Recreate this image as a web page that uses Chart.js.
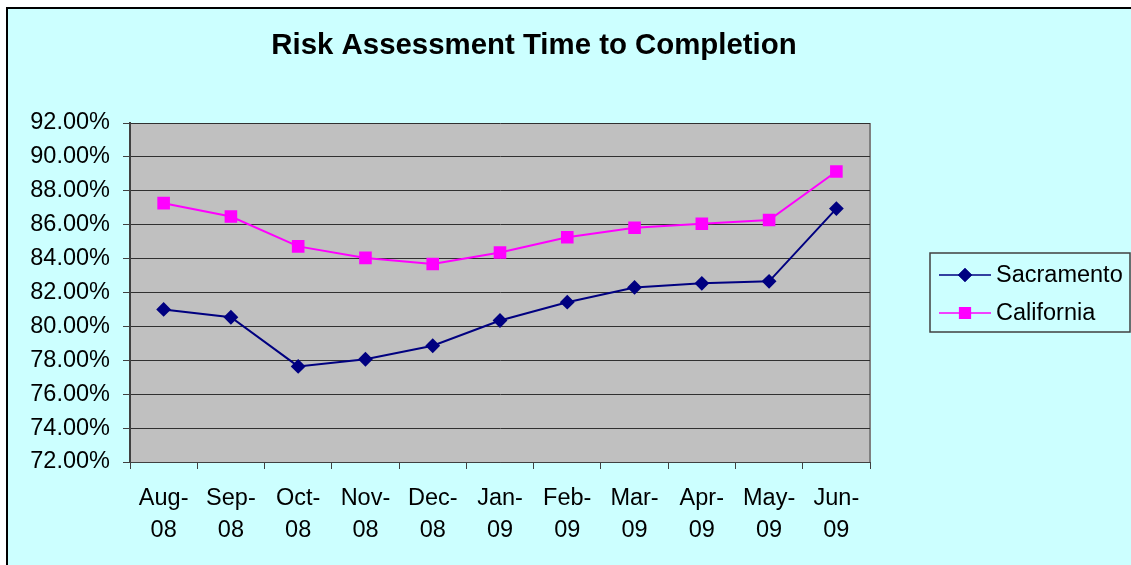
<!DOCTYPE html>
<html>
<head>
<meta charset="utf-8">
<script src="https://cdn.jsdelivr.net/npm/chart.js@4/dist/chart.umd.min.js"></script>
<style>
  body { margin: 0; background: #fff; }
  canvas { display: block; }
</style>
</head>
<body>
<canvas id="riskchart" width="1131" height="565"></canvas>
<script>
var months = [['Aug-', '08'], ['Sep-', '08'], ['Oct-', '08'], ['Nov-', '08'], ['Dec-', '08'], ['Jan-', '09'],
    ['Feb-', '09'], ['Mar-', '09'], ['Apr-', '09'], ['May-', '09'], ['Jun-', '09']];
var sacramento = [81.00, 80.54, 77.64, 78.06, 78.86, 80.35, 81.43, 82.30, 82.54, 82.66, 86.95];
var california = [87.27, 86.48, 84.72, 84.04, 83.68, 84.36, 85.26, 85.82, 86.06, 86.28, 89.14];
var chartTitle = 'Risk Assessment Time to Completion';

var FONT = 'Arial, "Liberation Sans", sans-serif';

// background frame, plot area fill, title and legend box
var excelLook = {
    id: 'excelLook',
    beforeDraw: function (chart) {
        var ctx = chart.ctx;
        var a = chart.chartArea;
        ctx.save();
        ctx.fillStyle = '#ffffff';
        ctx.fillRect(0, 0, chart.width, chart.height);
        ctx.fillStyle = '#ccffff';
        ctx.fillRect(7, 8, chart.width, chart.height);
        ctx.strokeStyle = '#000000';
        ctx.lineWidth = 2;
        ctx.strokeRect(7, 8, chart.width + 10, chart.height + 10);
        ctx.fillStyle = '#c0c0c0';
        ctx.fillRect(a.left, a.top, a.right - a.left, a.bottom - a.top);
        ctx.strokeStyle = '#808080';
        ctx.lineWidth = 2;
        ctx.beginPath();
        ctx.moveTo(a.right, a.top);
        ctx.lineTo(a.right, a.bottom);
        ctx.stroke();
        ctx.restore();
    },
    afterDraw: function (chart) {
        var ctx = chart.ctx;
        ctx.save();
        ctx.fillStyle = '#000';
        ctx.font = 'bold 29.4px ' + FONT;
        ctx.textAlign = 'center';
        ctx.textBaseline = 'middle';
        ctx.fillText(chartTitle, 534, 46);

        // legend
        ctx.strokeStyle = '#404040';
        ctx.lineWidth = 1.5;
        ctx.strokeRect(930, 253, 200, 79);
        ctx.font = '23.5px ' + FONT;
        ctx.textAlign = 'left';
        chart.data.datasets.forEach(function (ds, i) {
            var y = 275 + i * 38;
            ctx.strokeStyle = ds.borderColor;
            ctx.lineWidth = 1.5;
            ctx.beginPath();
            ctx.moveTo(939, y);
            ctx.lineTo(991, y);
            ctx.stroke();
            Chart.helpers.drawPoint(ctx, {
                pointStyle: ds.pointStyle,
                radius: ds.pointRadius,
                rotation: 0,
                borderWidth: 1
            }, 965, y);
            ctx.fillStyle = ds.pointBackgroundColor;
            ctx.strokeStyle = ds.pointBorderColor;
            ctx.fill();
            ctx.stroke();
            ctx.fillStyle = '#000';
            ctx.fillText(ds.label, 996, y + 1);
        });
        ctx.restore();
    }
};

new Chart(document.getElementById('riskchart').getContext('2d'), {
    type: 'line',
    data: {
        labels: months,
        datasets: [{
            label: 'Sacramento',
            data: sacramento,
            borderColor: '#000080',
            borderWidth: 2,
            pointStyle: 'rectRot',
            pointRadius: 6,
            pointBackgroundColor: '#000080',
            pointBorderColor: '#000080',
            tension: 0
        }, {
            label: 'California',
            data: california,
            borderColor: '#ff00ff',
            borderWidth: 2,
            pointStyle: 'rect',
            pointRadius: 7.5,
            pointBackgroundColor: '#ff00ff',
            pointBorderColor: '#ff00ff',
            tension: 0
        }]
    },
    options: {
        responsive: false,
        animation: false,
        layout: {
            padding: { left: 10, right: 261, top: 123, bottom: 13 }
        },
        plugins: {
            legend: { display: false },
            title: { display: false },
            tooltip: { enabled: false }
        },
        scales: {
            x: {
                offset: true,
                afterFit: function (scale) { scale.height = 90; },
                grid: {
                    offset: true,
                    drawOnChartArea: false,
                    drawTicks: true,
                    tickLength: 7,
                    color: '#404040'
                },
                border: { display: true, color: '#404040', width: 1 },
                ticks: {
                    color: '#000',
                    padding: 14,
                    maxRotation: 0,
                    autoSkip: false,
                    font: { family: FONT, size: 23.5, lineHeight: 1.36 }
                }
            },
            y: {
                min: 72,
                max: 92,
                afterFit: function (scale) { scale.width = 120; },
                grid: {
                    color: '#303030',
                    lineWidth: 1,
                    tickLength: 7,
                    tickColor: '#404040'
                },
                border: { display: true, color: '#404040', width: 2 },
                ticks: {
                    stepSize: 2,
                    color: '#000',
                    padding: 13,
                    font: { family: FONT, size: 23.5 },
                    callback: function (v) { return v.toFixed(2) + '%'; }
                }
            }
        }
    },
    plugins: [excelLook]
});
</script>
</body>
</html>
